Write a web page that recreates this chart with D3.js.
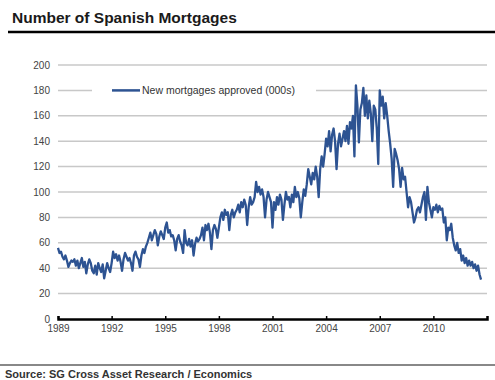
<html>
<head>
<script src="https://d3js.org/d3.v7.min.js"></script>
<style>
  body {margin: 0; background: #fff; font-family: "Liberation Sans", Arial, sans-serif;}
</style>
</head>
<body>
<script>
// monthly new mortgages approved (000s), Jan 1989 .. Sep 2012
var startYear = 1989
var mortgages = [
  56,52,53,49,47,50,46,41,44,46,45,47,      // 1989
  42,46,40,44,48,41,45,36,43,47,44,38,      // 1990
  36,42,35,44,40,37,43,32,38,44,40,37,      // 1991
  44,53,48,51,46,50,45,38,47,52,49,46,      // 1992
  48,44,38,50,53,49,47,41,50,55,52,57,      // 1993
  60,64,68,62,66,70,67,58,65,69,66,63,      // 1994
  72,76,68,70,65,66,62,54,63,66,61,58,      // 1995
  52,70,60,58,63,57,62,50,59,64,61,63,      // 1996
  66,72,62,74,70,75,68,55,70,74,71,64,      // 1997
  72,80,84,78,86,82,84,70,82,86,80,84,      // 1998
  86,90,84,92,88,94,90,74,88,96,90,92,      // 1999
  96,108,100,104,98,102,96,80,94,100,96,92, // 2000
  72,92,86,96,90,98,94,78,90,100,94,96,     // 2001
  88,98,92,104,96,100,95,80,92,102,97,106,  // 2002
  118,112,106,115,110,120,112,96,118,128,120,130, // 2003
  142,136,148,132,145,150,140,118,138,146,136,142, // 2004
  148,140,152,138,155,150,160,128,184,168,139,165, // 2005
  170,182,160,176,158,172,162,140,168,165,150,122, // 2006
  180,168,175,158,170,160,148,138,126,104,134,130, // 2007
  125,118,104,119,110,112,100,88,96,92,84,76,      // 2008
  80,86,88,84,90,96,100,78,104,92,86,80,           // 2009
  88,86,90,84,89,86,87,76,80,62,72,70,             // 2010
  75,64,58,54,60,52,55,46,50,44,48,42,             // 2011
  46,42,45,40,43,38,42,35,31                       // 2012
]
var yTicks = [0,20,40,60,80,100,120,140,160,180,200]
var xTicks = [1989,1992,1995,1998,2001,2004,2007,2010]
var seriesName = "New mortgages approved (000s)"

var width = 495, height = 380
var svg = d3.select("body").append("svg")
    .attr("width", width)
    .attr("height", height)

var x = d3.scaleLinear().domain([1989, 2013]).range([58, 487])
var y = d3.scaleLinear().domain([0, 200]).range([319, 65])

// title + rule
svg.append("text")
    .attr("x", 12).attr("y", 23)
    .style("font-size", "15.5px").style("font-weight", "bold").style("fill", "#1a1a1a")
    .text("Number of Spanish Mortgages")
svg.append("line")
    .attr("x1", 8).attr("x2", width).attr("y1", 32).attr("y2", 32)
    .style("stroke", "#000").style("stroke-width", 2.5)

// grid
svg.append("g").selectAll("line")
    .data(yTicks.filter(function(d){ return d > 0 }))
    .enter().append("line")
    .attr("x1", 58).attr("x2", 487)
    .attr("y1", function(d){ return y(d) }).attr("y2", function(d){ return y(d) })
    .style("stroke", "#c8c8c8").style("stroke-width", 1.5)

// y labels
svg.append("g").selectAll("text")
    .data(yTicks)
    .enter().append("text")
    .attr("x", 50).attr("y", function(d){ return y(d) + 3.5 })
    .attr("text-anchor", "end")
    .style("font-size", "10px").style("fill", "#444")
    .text(function(d){ return d })

// x axis
var xAxis = svg.append("g")
    .attr("transform", "translate(0," + y(0) + ")")
    .call(d3.axisBottom(x).tickValues(xTicks).tickFormat(d3.format("d")).tickSize(-3).tickPadding(6))
xAxis.select(".domain").style("stroke", "#000").style("stroke-width", 2.5)
xAxis.selectAll(".tick line").style("stroke", "#000").style("stroke-width", 1.5)
xAxis.selectAll("text")
    .style("font-size", "10px").style("fill", "#444")
    .style("font-family", "Liberation Sans, Arial, sans-serif")

// series
var line = d3.line()
    .x(function(d, i){ return x(startYear + i / 12) })
    .y(function(d){ return y(d) })
svg.append("path")
    .datum(mortgages)
    .attr("d", line)
    .style("fill", "none")
    .style("stroke", "#2d5392")
    .style("stroke-width", 2.3)
    .style("stroke-linejoin", "round")

// legend
svg.append("rect")
    .attr("x", 92).attr("y", 85).attr("width", 224).attr("height", 14)
    .style("fill", "#fff")
svg.append("line")
    .attr("x1", 112).attr("x2", 140).attr("y1", y(180)).attr("y2", y(180))
    .style("stroke", "#2d5392").style("stroke-width", 2.5)
svg.append("text")
    .attr("x", 142).attr("y", y(180) + 3.5)
    .style("font-size", "10.5px").style("fill", "#333")
    .text(seriesName)

// footer
svg.append("line")
    .attr("x1", 0).attr("x2", width).attr("y1", 365).attr("y2", 365)
    .style("stroke", "#888").style("stroke-width", 2)
svg.append("text")
    .attr("x", 5).attr("y", 378)
    .style("font-size", "11px").style("font-weight", "bold").style("fill", "#333")
    .text("Source: SG Cross Asset Research / Economics")
</script>
</body>
</html>
